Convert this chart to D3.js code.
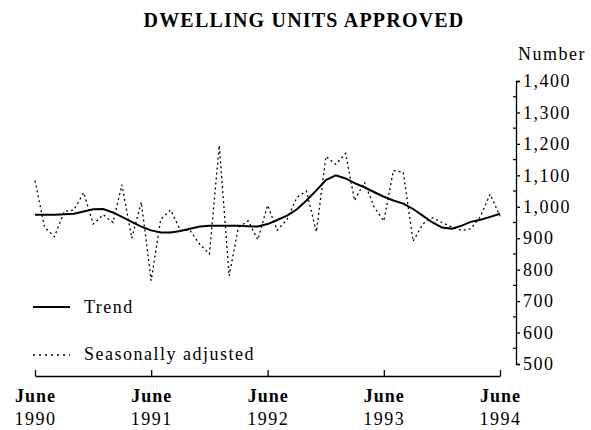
<!DOCTYPE html>
<html>
<head>
<meta charset="utf-8">
<script src="https://cdn.jsdelivr.net/npm/d3@7"></script>
<style>
  body { margin: 0; background: #fff; }
  svg { font-family: "Liberation Serif", "DejaVu Serif", serif; }
</style>
</head>
<body>
<div id="root"></div>
<script>
// monthly values, June 1990 .. June 1994
const seasAdj = [1083, 935, 905, 985, 990, 1045, 945, 975, 950, 1070, 900, 1015,
  765, 960, 990, 925, 925, 880, 850, 1195, 780, 935, 955, 895,
  1005, 925, 960, 1030, 1050, 920, 1160, 1135, 1170, 1020, 1078, 1000,
  955, 1115, 1110, 890, 945, 965, 950, 935, 925, 930, 970, 1040,
  970];
const trend = [975, 975, 975, 976, 978, 985, 992, 993, 982, 968, 952, 937,
  925, 918, 918, 923, 930, 937, 940, 940, 940, 940, 938, 937,
  945, 958, 972, 992, 1020, 1052, 1085, 1100, 1090, 1075, 1062, 1047,
  1032, 1020, 1010, 993, 972, 950, 934, 930, 940, 952, 959, 968,
  978];
const yearLabels = ["1990", "1991", "1992", "1993", "1994"];
const yTicks = [500, 600, 700, 800, 900, 1000, 1100, 1200, 1300, 1400];

const width = 591, height = 430;
const fs = 18, ls = 1.5;
const svg = d3.select("#root").append("svg")
  .attr("width", width).attr("height", height);

const months = d3.timeMonth.range(new Date(1990, 5, 1), new Date(1994, 6, 1));
const junes = yearLabels.map(y => new Date(+y, 5, 1));

let x = d3.scaleTime()
  .domain([months[0], months[months.length - 1]])
  .range([35, 500]);

let y = d3.scaleLinear()
  .domain([500, 1400])
  .range([364, 81]);

// title
svg.append("text")
  .attr("x", 304).attr("y", 27)
  .attr("text-anchor", "middle")
  .attr("font-weight", "bold")
  .attr("font-size", 20)
  .attr("letter-spacing", 1.2)
  .text("DWELLING UNITS APPROVED");

// x axis
let xAxis = svg.append("g")
  .attr("transform", "translate(0,376)")
  .call(d3.axisBottom(x).tickValues(junes).tickSize(-6).tickSizeOuter(0).tickFormat(""));
xAxis.select(".domain").attr("stroke-width", 1.3);
xAxis.selectAll(".tick line").attr("stroke-width", 1.3);
xAxis.selectAll(".tick").each(function(d, i) {
  let t = d3.select(this);
  t.append("text").attr("y", 26).attr("fill", "#000")
    .attr("font-size", fs).attr("font-weight", "bold")
    .attr("letter-spacing", 1)
    .attr("font-family", "Liberation Serif")
    .text("June");
  t.append("text").attr("y", 49).attr("fill", "#000")
    .attr("font-size", fs).attr("letter-spacing", ls)
    .attr("font-family", "Liberation Serif")
    .text(yearLabels[i]);
});

// y axis (right side)
let yAxis = svg.append("g")
  .attr("transform", "translate(516,0)")
  .call(d3.axisRight(y).tickValues(yTicks).tickSize(4).tickSizeOuter(4)
    .tickFormat(d3.format(",")));
yAxis.select(".domain").attr("stroke-width", 1.3);
yAxis.selectAll(".tick line").attr("stroke-width", 1.3);
yAxis.selectAll(".tick text")
  .attr("x", 7)
  .attr("font-size", fs)
  .attr("letter-spacing", ls)
  .attr("font-family", "Liberation Serif")
  .attr("fill", "#000");

// minor ticks
svg.append("g")
  .selectAll("line")
  .data(d3.range(550, 1400, 100))
  .enter()
  .append("line")
  .attr("x1", 513).attr("x2", 516)
  .attr("y1", d => y(d)).attr("y2", d => y(d))
  .attr("stroke", "#000").attr("stroke-width", 1.2);

svg.append("text")
  .attr("x", 518).attr("y", 60)
  .attr("font-size", fs)
  .attr("letter-spacing", ls)
  .text("Number");

// lines
const line = d3.line()
  .x((d, i) => x(months[i]))
  .y(d => y(d));

svg.append("path")
  .datum(seasAdj)
  .attr("fill", "none")
  .attr("stroke", "#000")
  .attr("stroke-width", 1.3)
  .attr("stroke-dasharray", "2,3")
  .attr("d", line);

svg.append("path")
  .datum(trend)
  .attr("fill", "none")
  .attr("stroke", "#000")
  .attr("stroke-width", 2)
  .attr("d", line);

// legend
let legend = svg.append("g");
legend.append("line")
  .attr("x1", 33).attr("x2", 70).attr("y1", 307).attr("y2", 307)
  .attr("stroke", "#000").attr("stroke-width", 2);
legend.append("text")
  .attr("x", 84).attr("y", 313)
  .attr("font-size", fs)
  .attr("letter-spacing", ls)
  .text("Trend");
legend.append("line")
  .attr("x1", 33).attr("x2", 70).attr("y1", 355).attr("y2", 355)
  .attr("stroke", "#000").attr("stroke-width", 1.3)
  .attr("stroke-dasharray", "2,4");
legend.append("text")
  .attr("x", 84).attr("y", 360)
  .attr("font-size", fs)
  .attr("letter-spacing", ls)
  .text("Seasonally adjusted");
</script>
</body>
</html>
